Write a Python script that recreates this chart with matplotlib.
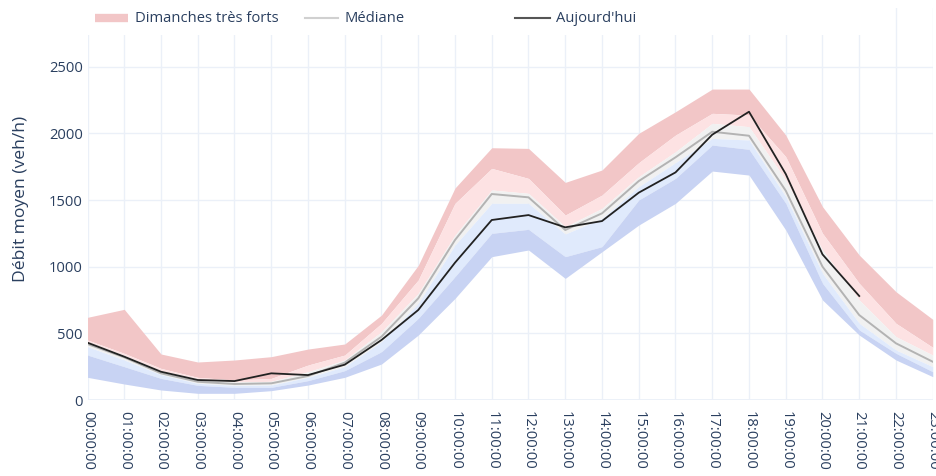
import matplotlib
matplotlib.use("Agg")
import matplotlib.pyplot as plt
from matplotlib.lines import Line2D
from matplotlib.patches import Rectangle

plt.rcParams['font.family'] = ['Open Sans', 'DejaVu Sans']

# Hourly time slots
hours = ["00:00:00", "01:00:00", "02:00:00", "03:00:00", "04:00:00", "05:00:00",
         "06:00:00", "07:00:00", "08:00:00", "09:00:00", "10:00:00", "11:00:00",
         "12:00:00", "13:00:00", "14:00:00", "15:00:00", "16:00:00", "17:00:00",
         "18:00:00", "19:00:00", "20:00:00", "21:00:00", "22:00:00", "23:00:00"]

# Band boundaries (veh/h), from the highest Sundays down to the lowest
tres_forts_haut = [620, 680, 345, 285, 300, 325, 382, 420, 637, 1010, 1590, 1892,
                   1887, 1632, 1725, 2000, 2162, 2332, 2332, 1987, 1450, 1087, 812, 605]
forts_haut = [450, 350, 237, 170, 150, 162, 262, 337, 575, 900, 1475, 1737,
              1662, 1387, 1537, 1780, 1987, 2150, 2137, 1825, 1250, 875, 575, 395]
normal_haut = [437, 335, 220, 160, 135, 140, 212, 300, 512, 800, 1237, 1575,
               1550, 1300, 1437, 1675, 1862, 2075, 2050, 1650, 1125, 750, 475, 337]
normal_bas = [400, 300, 190, 125, 110, 112, 170, 250, 437, 725, 1162, 1475,
              1475, 1245, 1362, 1600, 1780, 1962, 1950, 1525, 950, 575, 375, 250]
faibles_bas = [337, 250, 162, 110, 95, 95, 145, 220, 362, 612, 925, 1250,
               1280, 1075, 1150, 1500, 1662, 1912, 1880, 1475, 875, 525, 350, 212]
tres_faibles_bas = [170, 120, 75, 50, 50, 70, 112, 170, 270, 487, 762, 1075,
                    1125, 912, 1112, 1312, 1475, 1717, 1687, 1275, 750, 487, 300, 175]

mediane = [420, 320, 200, 137, 120, 125, 180, 280, 475, 762, 1200, 1545,
           1520, 1275, 1400, 1642, 1820, 2012, 1982, 1570, 1000, 637, 425, 287]

# Today's flow, available up to 21:00
aujourdhui = [430, 325, 212, 150, 142, 200, 187, 265, 450, 675, 1030, 1350,
              1387, 1295, 1342, 1555, 1707, 1990, 2162, 1695, 1092, 780]

y_ticks = [0, 500, 1000, 1500, 2000, 2500]

W, H = 937, 476
fig = plt.figure(figsize=(W / 100, H / 100), dpi=100)
fig.patch.set_facecolor('white')

def fx(px):
    return px / W

def fy(py):
    return 1 - py / H

ax = fig.add_axes([fx(87.5), fy(400), fx(932.75) - fx(87.5), fy(8) - fy(400)])
ax.set_facecolor('white')

x = list(range(len(hours)))
xt = list(range(len(aujourdhui)))

c_rouge = '#f2c6c7'
c_rose = '#fde2e3'
c_gris = '#f1f1f1'
c_bleu_clair = '#e0eafc'
c_bleu = '#c8d3f3'

ax.fill_between(x, forts_haut, tres_forts_haut, color=c_rouge, lw=0, zorder=2)
ax.fill_between(x, normal_haut, forts_haut, color=c_rose, lw=0, zorder=2)
ax.fill_between(x, normal_bas, normal_haut, color=c_gris, lw=0, zorder=2)
ax.fill_between(x, faibles_bas, normal_bas, color=c_bleu_clair, lw=0, zorder=2)
ax.fill_between(x, tres_faibles_bas, faibles_bas, color=c_bleu, lw=0, zorder=2)

ax.plot(x, mediane, color='#b3b3b3', lw=1.4, zorder=3)
ax.plot(xt, aujourdhui, color='#222222', lw=1.3, zorder=4)

ax.set_xlim(0, 23)
ax.set_ylim(0, 2940)
ax.set_xticks(x)
ax.set_xticklabels(hours, rotation=-90, va='top', ha='center')
ax.set_yticks(y_ticks)
ax.set_yticklabels([str(v) for v in y_ticks])

tick_color = '#2a3f5f'
ax.tick_params(axis='both', length=0, labelsize=10.6, colors=tick_color)
ax.tick_params(axis='y', pad=3.3)
ax.tick_params(axis='x', pad=8.2)

ax.grid(True, color='#ebf0f8', lw=1, zorder=0)
ax.set_axisbelow(True)
for s in ax.spines.values():
    s.set_visible(False)
ax.axhline(0, color='#ebf0f8', lw=2, zorder=1)

fig.text(fx(21), fy(199), "Débit moyen (veh/h)", rotation=90,
         ha='center', va='center', fontsize=12.6, color=tick_color)

# Legend band across the top
fig.add_artist(Rectangle((fx(88), fy(35)), fx(880) - fx(88), fy(8) - fy(35),
                         transform=fig.transFigure, facecolor='white',
                         edgecolor='none', zorder=5))
ly = fy(18)
fig.add_artist(Line2D([fx(95), fx(128)], [ly, ly], transform=fig.transFigure,
                      color=c_rouge, lw=6, solid_capstyle='butt', zorder=6))
fig.text(fx(135), ly, "Dimanches très forts", ha='left', va='center',
         fontsize=10.6, color=tick_color, zorder=6)
fig.add_artist(Line2D([fx(305), fx(338)], [ly, ly], transform=fig.transFigure,
                      color='#d0d0d0', lw=1.5, zorder=6))
fig.text(fx(345), ly, "Médiane", ha='left', va='center',
         fontsize=10.6, color=tick_color, zorder=6)
fig.add_artist(Line2D([fx(515), fx(550)], [ly, ly], transform=fig.transFigure,
                      color='#555555', lw=1.5, zorder=6))
fig.text(fx(556), ly, "Aujourd'hui", ha='left', va='center',
         fontsize=10.6, color=tick_color, zorder=6)

fig.savefig('out.png', dpi=100, facecolor='white')
